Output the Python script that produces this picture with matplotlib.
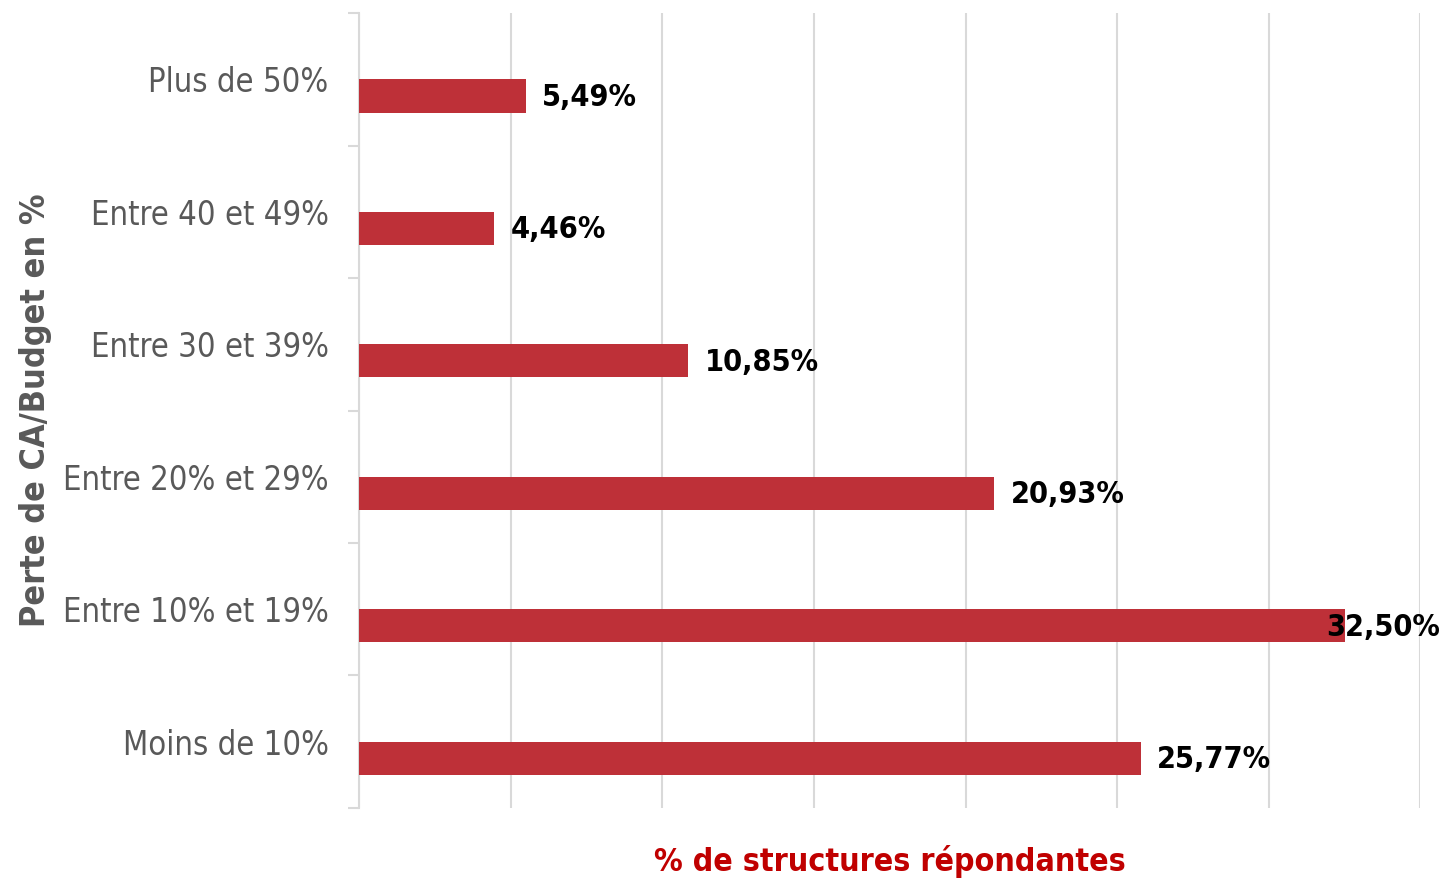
import matplotlib
matplotlib.use("Agg")
import matplotlib.pyplot as plt

# categories from bottom to top
categories = ["Moins de 10%", "Entre 10% et 19%", "Entre 20% et 29%",
              "Entre 30 et 39%", "Entre 40 et 49%", "Plus de 50%"]
values = [25.77, 32.50, 20.93, 10.85, 4.46, 5.49]
value_labels = ["25,77%", "32,50%", "20,93%", "10,85%", "4,46%", "5,49%"]

bar_color = "#BE3038"
grey = "#595959"

plt.rcParams['font.family'] = ['DejaVu Sans']

fig = plt.figure(figsize=(14.48, 8.8), dpi=100)
ax = fig.add_axes([0.248, 0.082, 0.733, 0.903])

ypos = [i - 0.125 for i in range(len(categories))]
ax.barh(ypos, values, height=0.25, color=bar_color, zorder=3)

for y, v, lab in zip(ypos, values, value_labels):
    # the largest label does not fit, Excel pushes it back onto the bar
    dx = 12 if v < 30 else -13
    ax.annotate(lab, (v, y), xytext=(dx, -1), textcoords="offset points",
                ha="left", va="center", fontsize=22, fontweight="bold",
                fontstretch="condensed", color="black", zorder=4,
                annotation_clip=False)

ax.set_xlim(0, 35)
ax.set_ylim(-0.5, 5.5)
ax.set_xticks(range(0, 36, 5))
ax.set_xticklabels([])
ax.tick_params(axis="x", length=0, pad=0)
ax.grid(axis="x", color="#D9D9D9", linewidth=1.5, zorder=0)

ax.set_yticks(range(len(categories)))
ax.set_yticklabels(categories, fontsize=23.5, color=grey, fontstretch="condensed")
ax.tick_params(axis="y", which="major", length=0, pad=22)
ax.set_yticks([i - 0.5 for i in range(len(categories) + 1)], minor=True)
ax.tick_params(axis="y", which="minor", length=8, color="#D9D9D9", width=1.5)

for s in ["top", "right", "bottom"]:
    ax.spines[s].set_visible(False)
ax.spines["left"].set_color("#D9D9D9")
ax.spines["left"].set_linewidth(1.5)

ax.set_ylabel("Perte de CA/Budget en %", fontsize=24.5, color=grey,
              fontweight="bold", fontstretch="condensed", labelpad=8)
ax.set_xlabel("% de structures répondantes", fontsize=23, color="#C00000",
              fontweight="bold", fontstretch="condensed", labelpad=27)

fig.savefig("out.png", dpi=100)
